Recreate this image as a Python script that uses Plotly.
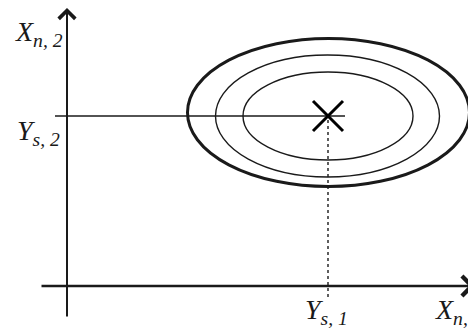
import plotly.graph_objects as go

# diagram coordinates, origin where the two axes cross
x_axis = [-27, 408]
y_axis = [-32, 278]

# operating point Y_s = (Y_s1, Y_s2)
ys1 = 261
ys2 = 170

# contour ellipses: centres and half axes, outer to inner
ell_cx = [261.5, 260.5, 261]
ell_cy = [173.5, 170, 170]
ell_a = [141, 112, 85]
ell_b = [74, 61, 44]

# guide lines to the axes
guide_h = [-12, 278]
guide_v = [166, -14]

labels = ["X<sub>n, 2</sub>", "Y<sub>s, 2</sub>", "Y<sub>s, 1</sub>", "X<sub>n, 1</sub>"]
label_x = [-54, -52, 236, 366]
label_y = [253, 154, -25, -25]

INK = "#1a1a1a"

fig = go.Figure()

# ellipses
widths = [3, 1.4, 1.4]
for cx, cy, a, b, w in zip(ell_cx, ell_cy, ell_a, ell_b, widths):
    fig.add_shape(type="circle", xref="x", yref="y",
                  x0=cx - a, x1=cx + a, y0=cy - b, y1=cy + b,
                  line=dict(color=INK, width=w))

# horizontal guide through Y_s
fig.add_trace(go.Scatter(x=guide_h, y=[ys2, ys2], mode="lines",
                         line=dict(color=INK, width=1.6), hoverinfo="skip"))
# vertical dotted guide
fig.add_trace(go.Scatter(x=[ys1, ys1], y=guide_v, mode="lines",
                         line=dict(color=INK, width=1.4, dash="dot"), hoverinfo="skip"))

# the cross at Y_s
fig.add_trace(go.Scatter(x=[ys1], y=[ys2], mode="markers",
                         marker=dict(symbol="x-thin-open", size=30, color="black",
                                     line=dict(color="black", width=3)),
                         hoverinfo="skip"))

# axes with arrows
fig.add_annotation(x=x_axis[1], y=0, ax=x_axis[0], ay=0,
                   xref="x", yref="y", axref="x", ayref="y",
                   showarrow=True, arrowhead=4, arrowsize=1.6, arrowwidth=2.4,
                   arrowcolor=INK, text="")
fig.add_annotation(x=0, y=y_axis[1], ax=0, ay=y_axis[0],
                   xref="x", yref="y", axref="x", ayref="y",
                   showarrow=True, arrowhead=4, arrowsize=1.6, arrowwidth=2,
                   arrowcolor=INK, text="")

for t, lx, ly in zip(labels, label_x, label_y):
    fig.add_annotation(x=lx, y=ly, xref="x", yref="y", text="<i>" + t + "</i>",
                       showarrow=False, xanchor="left", yanchor="middle",
                       font=dict(family="Liberation Serif", size=28, color=INK))

# the page body adds an 8px margin, so the window starts 8px into the figure
fig.update_layout(
    width=476, height=334,
    margin=dict(l=0, r=0, t=0, b=0),
    plot_bgcolor="white", paper_bgcolor="white",
    showlegend=False,
    xaxis=dict(range=[-59, 417], visible=False, fixedrange=True),
    yaxis=dict(range=[-56, 278], visible=False, fixedrange=True),
)

fig.write_html("out.html")
